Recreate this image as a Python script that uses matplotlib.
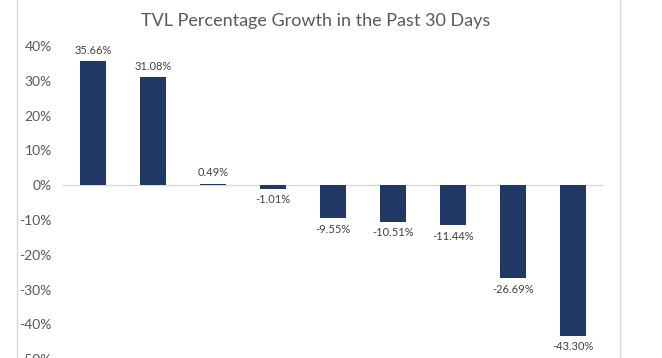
import matplotlib
matplotlib.use("Agg")
import matplotlib.pyplot as plt
from matplotlib.patches import Rectangle

# TVL growth over the past 30 days, in percent
growth = [35.66, 31.08, 0.49, -1.01, -9.55, -10.51, -11.44, -26.69, -43.30]
y_ticks = [40, 30, 20, 10, 0, -10, -20, -30, -40, -50]
title = "TVL Percentage Growth in the Past 30 Days"

plt.rcParams['font.family'] = ['Lato', 'DejaVu Sans']

fig = plt.figure(figsize=(6.62, 3.58), dpi=100)
fig.patch.set_facecolor("white")
ax = fig.add_axes([0.095, -0.003, 0.816, 0.874])

x = list(range(len(growth)))
bars = ax.bar(x, growth, width=0.42, color="#203864", zorder=3)
ax.bar_label(bars, labels=["%.2f%%" % v for v in growth], padding=4,
             fontsize=8, color="#404040")

ax.axhline(0, color="#d9d9d9", linewidth=1, zorder=2)
ax.set_xlim(-0.5, len(growth) - 0.5)
ax.set_ylim(-50, 40)
ax.set_yticks(y_ticks)
ax.set_yticklabels(["%d%%" % t for t in y_ticks], fontsize=10, color="#595959")
ax.set_xticks([])
ax.tick_params(axis="y", length=0, pad=8)
for s in ax.spines.values():
    s.set_visible(False)

fig.text(316 / 662, 1 - 21 / 358, title, ha="center", va="center",
         fontsize=13, color="#595959")

# outer chart border (top/bottom cut off in the original)
fig.add_artist(Rectangle((17 / 662, -0.1), 603 / 662, 1.3,
                         transform=fig.transFigure, fill=False,
                         edgecolor="#d9d9d9", linewidth=1))

fig.savefig("out.png", dpi=100)
